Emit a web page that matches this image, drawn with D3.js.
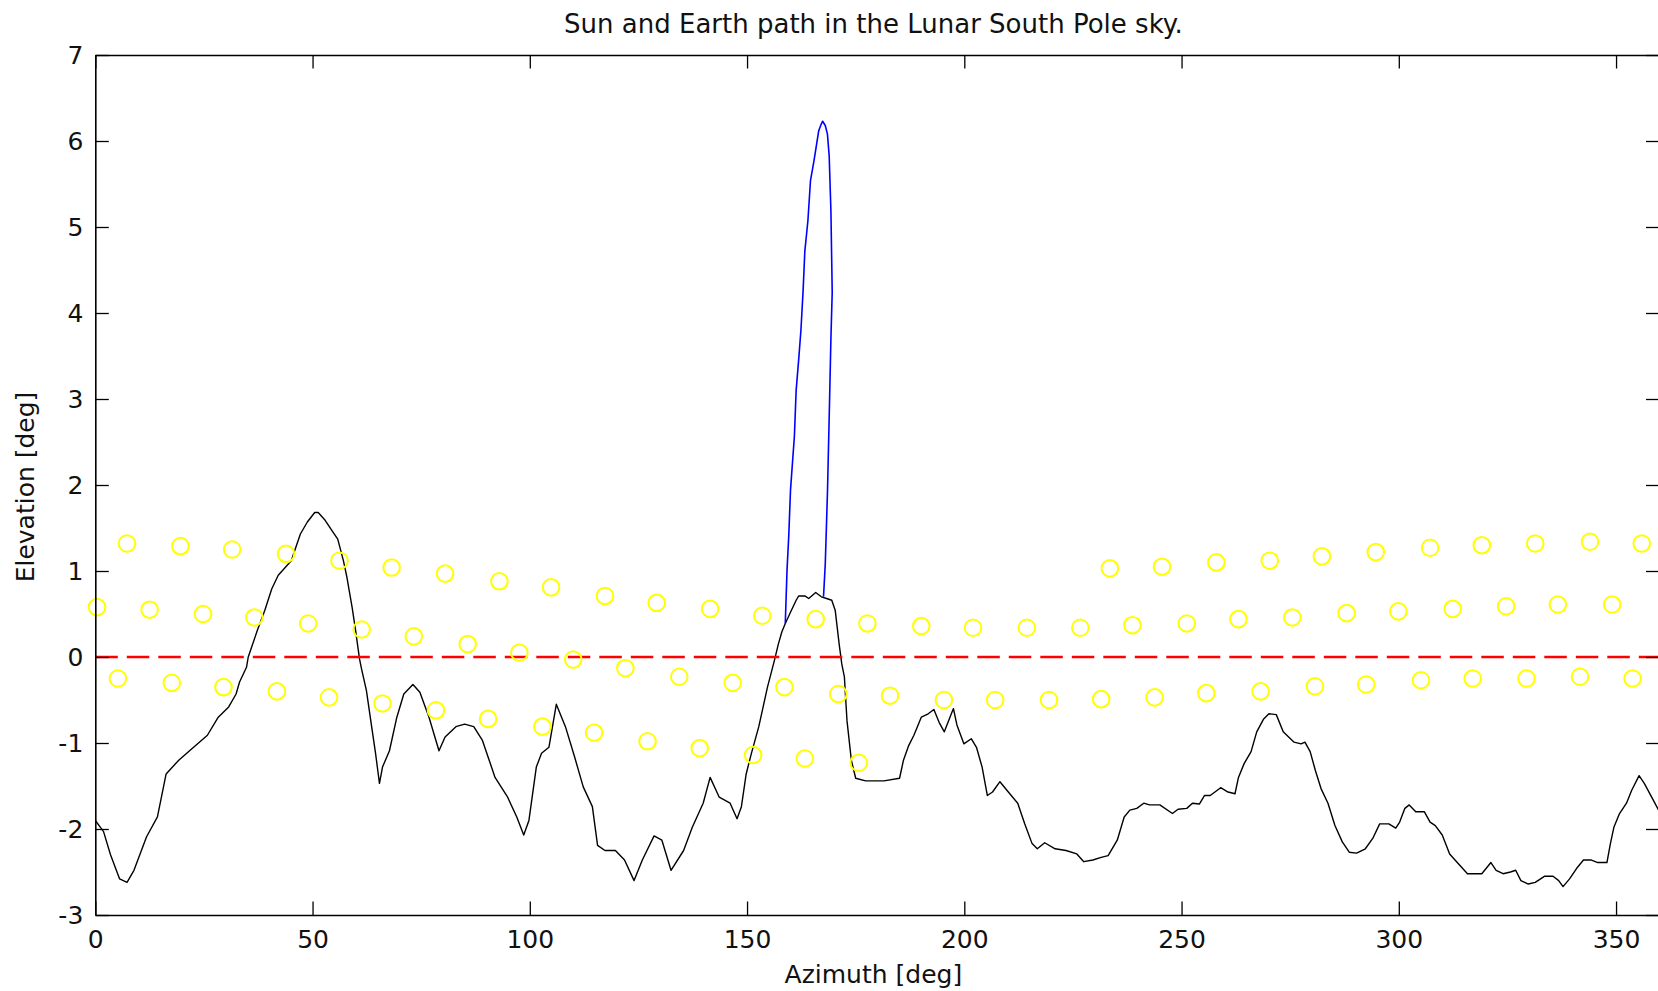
<!DOCTYPE html>
<html>
<head>
<meta charset="utf-8">
<script src="https://cdn.jsdelivr.net/npm/d3@7"></script>
<style>
  html, body { margin: 0; padding: 0; background: #ffffff; }
  svg { display: block; }
  text { font-family: "DejaVu Sans", sans-serif; fill: #111; }
</style>
</head>
<body>
<svg id="chart" width="1658" height="991"></svg>
<script>
// Local horizon profile: azimuth [deg] and elevation [deg] of the terrain skyline
const terrainAz = [0.0, 1.9, 3.5, 5.6, 7.3, 8.9, 11.8, 14.3, 16.3, 19.2, 21.7, 25.8, 28.3, 30.7, 32.4, 33.2, 34.8, 35.2, 37.3, 39.0,
  40.6, 42.1, 43.5, 45.1, 47.2, 48.8, 50.5, 51.3, 52.9, 54.2, 55.8, 57.1, 57.9, 59.1, 59.9, 60.8, 61.2, 62.4, 63.6, 64.5,
  65.4, 66.1, 67.7, 69.4, 71.0, 73.1, 74.7, 76.8, 79.1, 80.5, 83.0, 85.0, 87.1, 89.1, 92.0, 94.9, 97.0, 98.6, 99.8, 101.5,
  102.7, 104.4, 106.1, 108.2, 110.3, 112.3, 114.4, 115.6, 117.3, 119.7, 121.8, 124.0, 125.9, 128.6, 130.4, 132.5, 135.4, 137.4, 139.9, 141.5,
  143.6, 146.1, 147.7, 148.7, 149.8, 151.0, 152.7, 154.7, 156.3, 157.2, 158.0, 158.8, 160.0, 161.3, 161.9, 163.3, 164.2, 165.8, 167.1, 168.3,
  169.5, 170.3, 171.2, 171.8, 172.4, 173.0, 174.0, 175.0, 177.3, 181.5, 185.1, 186.0, 187.2, 188.4, 190.1, 191.7, 193.0, 194.2, 195.4, 196.7,
  197.5, 198.3, 199.9, 201.6, 202.8, 204.1, 205.3, 206.5, 208.2, 209.8, 212.3, 213.9, 215.6, 216.8, 218.5, 220.9, 223.4, 225.9, 227.5, 229.6,
  231.5, 233.1, 235.2, 236.8, 238.1, 239.7, 241.3, 242.6, 245.0, 247.9, 249.2, 251.2, 252.5, 254.1, 255.3, 256.6, 259.0, 260.7, 262.3, 263.1,
  264.4, 266.0, 267.3, 268.9, 270.1, 271.8, 273.4, 275.9, 277.5, 278.4, 279.6, 280.8, 282.1, 283.7, 285.3, 287.0, 288.6, 290.3, 292.3, 294.0,
  295.6, 297.7, 299.3, 300.2, 301.4, 302.4, 303.9, 305.9, 307.2, 308.4, 310.0, 311.7, 313.3, 315.8, 319.1, 321.2, 322.4, 324.0, 325.7, 326.9,
  328.1, 329.8, 331.4, 333.5, 335.5, 336.8, 337.8, 339.3, 340.9, 342.5, 344.2, 345.8, 347.9, 348.7, 349.5, 350.8, 352.4, 353.6, 355.3, 356.5,
  358.2, 360.0];
const terrainEl = [-1.90, -2.03, -2.30, -2.58, -2.62, -2.48, -2.09, -1.86, -1.36, -1.20, -1.09, -0.91, -0.70, -0.58, -0.43, -0.29, -0.12, 0.00, 0.31, 0.54,
  0.79, 0.95, 1.03, 1.12, 1.43, 1.57, 1.68, 1.68, 1.59, 1.49, 1.37, 1.12, 0.93, 0.58, 0.31, -0.02, -0.12, -0.39, -0.81, -1.12,
  -1.47, -1.28, -1.09, -0.70, -0.43, -0.32, -0.41, -0.70, -1.09, -0.93, -0.81, -0.78, -0.81, -0.97, -1.40, -1.63, -1.86, -2.07, -1.90, -1.28,
  -1.12, -1.05, -0.55, -0.81, -1.16, -1.51, -1.74, -2.19, -2.25, -2.25, -2.36, -2.60, -2.36, -2.08, -2.13, -2.48, -2.25, -1.98, -1.70, -1.40,
  -1.63, -1.70, -1.88, -1.74, -1.36, -1.12, -0.81, -0.35, -0.04, 0.15, 0.29, 0.39, 0.52, 0.66, 0.71, 0.71, 0.68, 0.75, 0.70, 0.68,
  0.66, 0.54, 0.15, -0.08, -0.23, -0.74, -1.20, -1.41, -1.44, -1.44, -1.41, -1.20, -1.03, -0.91, -0.70, -0.66, -0.61, -0.76, -0.87, -0.70,
  -0.60, -0.79, -1.01, -0.95, -1.05, -1.28, -1.61, -1.57, -1.45, -1.55, -1.70, -1.94, -2.17, -2.23, -2.16, -2.23, -2.25, -2.29, -2.38, -2.36,
  -2.33, -2.31, -2.13, -1.86, -1.78, -1.76, -1.70, -1.72, -1.72, -1.82, -1.77, -1.76, -1.70, -1.71, -1.61, -1.61, -1.52, -1.57, -1.59, -1.40,
  -1.24, -1.10, -0.87, -0.72, -0.66, -0.67, -0.87, -0.99, -1.01, -0.99, -1.10, -1.32, -1.53, -1.70, -1.96, -2.15, -2.27, -2.28, -2.23, -2.11,
  -1.94, -1.94, -1.99, -1.92, -1.76, -1.72, -1.80, -1.80, -1.92, -1.96, -2.07, -2.29, -2.38, -2.52, -2.52, -2.39, -2.48, -2.52, -2.50, -2.48,
  -2.60, -2.64, -2.62, -2.55, -2.55, -2.60, -2.67, -2.58, -2.46, -2.36, -2.36, -2.39, -2.39, -2.17, -1.98, -1.82, -1.70, -1.55, -1.38, -1.47,
  -1.63, -1.80];

// Earth track above the horizon
const earthAz = [158.8, 159.2, 159.6, 160.0, 160.9, 161.3, 161.9, 162.4, 162.9, 163.3, 164.0, 164.6, 165.4, 166.0, 166.5, 167.1, 167.4,
  168.0, 168.5, 168.9, 169.3, 169.6, 169.3, 169.0, 168.5, 168.0, 167.6];
const earthEl = [0.39, 1.01, 1.41, 1.94, 2.57, 3.10, 3.47, 3.80, 4.26, 4.72, 5.07, 5.54, 5.77, 5.96, 6.12, 6.20, 6.23,
  6.18, 6.08, 5.83, 5.19, 4.24, 3.70, 3.00, 1.90, 1.08, 0.70];

// Sun positions, in time order
const sunAz = [233.5, 245.5, 258.0, 270.3, 282.3, 294.7, 307.2, 319.1, 331.4, 344.0, 355.9,
  7.3, 19.6, 31.5, 43.9, 56.2, 68.2, 80.5, 93.0, 104.9, 117.3, 129.2, 141.5, 153.5, 165.8, 177.7, 190.1, 202.0, 214.4, 226.7,
  238.7, 251.2, 263.1, 275.5, 288.0, 299.9, 312.4, 324.7, 336.6, 349.1,
  0.4, 12.5, 24.8, 36.6, 49.0, 61.3, 73.3, 85.7, 97.6, 110.0, 122.0, 134.4, 146.7, 158.6, 171.0, 182.9, 195.3, 207.1, 219.5,
  231.5, 243.8, 255.7, 268.2, 280.7, 292.5, 305.1, 317.0, 329.4, 341.7, 353.8,
  5.2, 17.6, 29.5, 41.8, 53.8, 66.1, 78.4, 90.4, 102.9, 114.8, 127.1, 139.1, 151.4, 163.3, 175.7];
const sunEl = [1.03, 1.05, 1.10, 1.12, 1.17, 1.22, 1.27, 1.30, 1.32, 1.34, 1.32,
  1.32, 1.29, 1.25, 1.20, 1.12, 1.04, 0.97, 0.88, 0.81, 0.71, 0.63, 0.56, 0.48, 0.44, 0.39, 0.36, 0.34, 0.34, 0.34,
  0.37, 0.39, 0.44, 0.46, 0.51, 0.53, 0.56, 0.59, 0.61, 0.61,
  0.58, 0.55, 0.50, 0.46, 0.39, 0.32, 0.24, 0.15, 0.05, -0.03, -0.13, -0.23, -0.30, -0.35, -0.43, -0.45, -0.50, -0.50, -0.50,
  -0.49, -0.47, -0.42, -0.40, -0.34, -0.32, -0.27, -0.25, -0.25, -0.23, -0.25,
  -0.25, -0.30, -0.35, -0.40, -0.47, -0.54, -0.62, -0.72, -0.81, -0.88, -0.98, -1.06, -1.14, -1.18, -1.23];

// Axis settings
const xTicks = [0, 50, 100, 150, 200, 250, 300, 350];
const yTicks = [-3, -2, -1, 0, 1, 2, 3, 4, 5, 6, 7];
const xDomain = [0, 360];
const yDomain = [-3, 7];
const horizonLevel = [0, 0];

const titleText = "Sun and Earth path in the Lunar South Pole sky.";
const xLabelText = "Azimuth [deg]";
const yLabelText = "Elevation [deg]";

const svg = d3.select("#chart");
const plot = { left: 95.3, right: 1659.5, top: 55, bottom: 915 };

const x = d3.scaleLinear().domain(xDomain).range([plot.left, plot.right]);
const y = d3.scaleLinear().domain(yDomain).range([plot.bottom, plot.top]);

svg.append("defs").append("clipPath").attr("id", "plotClip")
  .append("rect")
  .attr("x", plot.left).attr("y", plot.top)
  .attr("width", plot.right - plot.left).attr("height", plot.bottom - plot.top);

const terrain = terrainAz.map((a, i) => [a, terrainEl[i]]);
const earth = earthAz.map((a, i) => [a, earthEl[i]]);
const sun = sunAz.map((a, i) => [a, sunEl[i]]);

const line = d3.line().x(d => x(d[0])).y(d => y(d[1]));

const data = svg.append("g").attr("clip-path", "url(#plotClip)");

// Sun markers
svg.append("g").selectAll("circle").data(sun).join("circle")
  .attr("cx", d => x(d[0])).attr("cy", d => y(d[1]))
  .attr("r", 8.3)
  .attr("fill", "none")
  .attr("stroke", "#ffff00")
  .attr("stroke-width", 2);

// Terrain horizon
data.append("path").datum(terrain)
  .attr("d", line)
  .attr("fill", "none")
  .attr("stroke", "#000")
  .attr("stroke-width", 1.4)
  .attr("stroke-linejoin", "round");

// Earth track
data.append("path").datum(earth)
  .attr("d", line)
  .attr("fill", "none")
  .attr("stroke", "#0000ff")
  .attr("stroke-width", 1.6)
  .attr("stroke-linejoin", "round");

// Zero elevation reference
data.append("path").datum([[xDomain[0], horizonLevel[0]], [xDomain[1], horizonLevel[1]]])
  .attr("d", line)
  .attr("fill", "none")
  .attr("stroke", "#ff0000")
  .attr("stroke-width", 2.4)
  .attr("stroke-dasharray", "22.5,9");

// Axes with inward ticks on all four sides
const tickLen = 13.5;
const fontSize = 25;
const plainNumber = d => String(d);

const gBottom = svg.append("g").attr("transform", `translate(0,${plot.bottom})`)
  .call(d3.axisBottom(x).tickValues(xTicks).tickFormat(plainNumber)
    .tickSizeInner(-tickLen).tickSizeOuter(0).tickPadding(15));
const gTop = svg.append("g").attr("transform", `translate(0,${plot.top})`)
  .call(d3.axisTop(x).tickValues(xTicks).tickFormat("")
    .tickSizeInner(-tickLen).tickSizeOuter(0));
const gLeft = svg.append("g").attr("transform", `translate(${plot.left},0)`)
  .call(d3.axisLeft(y).tickValues(yTicks).tickFormat(plainNumber)
    .tickSizeInner(-tickLen).tickSizeOuter(0).tickPadding(12));
const gRight = svg.append("g").attr("transform", `translate(${plot.right},0)`)
  .call(d3.axisRight(y).tickValues(yTicks).tickFormat("")
    .tickSizeInner(-tickLen).tickSizeOuter(0));

[gBottom, gTop, gLeft, gRight].forEach(g => {
  g.select(".domain").attr("stroke", "#000").attr("stroke-width", 1.6);
  g.selectAll(".tick line").attr("stroke", "#000").attr("stroke-width", 1.3);
  g.selectAll(".tick text")
    .attr("fill", "#111")
    .style("font-family", '"DejaVu Sans", sans-serif')
    .style("font-size", fontSize + "px");
});

// Title and axis labels
svg.append("text")
  .attr("x", (plot.left + plot.right) / 2 - 4)
  .attr("y", 33)
  .attr("text-anchor", "middle")
  .style("font-size", "26px")
  .text(titleText);

svg.append("text")
  .attr("x", (plot.left + plot.right) / 2 - 4)
  .attr("y", 983)
  .attr("text-anchor", "middle")
  .style("font-size", fontSize + "px")
  .text(xLabelText);

svg.append("text")
  .attr("transform", `translate(34,${(plot.top + plot.bottom) / 2 + 2}) rotate(-90)`)
  .attr("text-anchor", "middle")
  .style("font-size", fontSize + "px")
  .text(yLabelText);
</script>
</body>
</html>
